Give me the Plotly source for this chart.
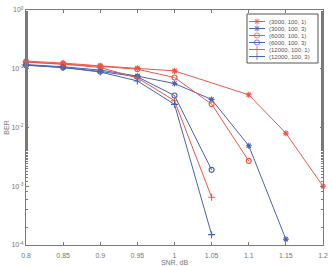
import plotly.graph_objects as go

snr = [0.8, 0.85, 0.9, 0.95, 1.0, 1.05, 1.1, 1.15, 1.2]

names = ["(3000, 100, 1)", "(3000, 100, 3)", "(6000, 100, 1)",
         "(6000, 100, 3)", "(12000, 100, 1)", "(12000, 100, 3)"]

ber_3000_1 = [0.135, 0.125, 0.112, 0.102, 0.092, None, 0.036, 0.008, 0.001]
ber_3000_3 = [0.118, 0.108, 0.095, 0.075, 0.056, 0.030, 0.0049, 0.000125]
ber_6000_1 = [0.13, 0.12, 0.11, 0.098, 0.071, 0.025, 0.0027]
ber_6000_3 = [0.115, 0.105, 0.09, 0.073, 0.035, 0.0019]
ber_12000_1 = [0.13, 0.12, 0.105, 0.07, 0.0286, 0.00065]
ber_12000_3 = [0.115, 0.105, 0.088, 0.062, 0.0248, 0.00015]

series = [ber_3000_1, ber_3000_3, ber_6000_1, ber_6000_3, ber_12000_1, ber_12000_3]

ytick_vals = [1e-4, 1e-3, 1e-2, 1e-1, 1]
ytick_text = ["10<sup>-4</sup>", "10<sup>-3</sup>", "10<sup>-2</sup>",
              "10<sup>-1</sup>", "10<sup>0</sup>"]
xtick_vals = [0.8, 0.85, 0.9, 0.95, 1.0, 1.05, 1.1, 1.15, 1.2]
xtick_text = ["0.8", "0.85", "0.9", "0.95", "1", "1.05", "1.1", "1.15", "1.2"]

RED = "#ee5548"
BLUE = "#4a62b4"
colors = [RED, BLUE, RED, BLUE, RED, BLUE]
symbols = ["asterisk-open", "asterisk-open", "circle-open", "circle-open",
           "cross-thin-open", "cross-thin-open"]
sizes = [5, 5, 5, 5, 5, 5]

fig = go.Figure()
for name, ys, c, s, sz in zip(names, series, colors, symbols, sizes):
    xs = snr[:len(ys)]
    fig.add_trace(go.Scatter(
        x=xs, y=ys, name=name, mode="lines+markers", connectgaps=True,
        showlegend=False, cliponaxis=False,
        line=dict(color=c, width=1),
        marker=dict(symbol=s, size=sz, color=c, line=dict(color=c, width=1.1)),
    ))

# Custom compact legend drawn on an overlay axis in pixel-like units
LX0, LX1, LY0, LY1 = 247, 318, 14, 63
row_y0, row_step = 21.5, 7.0
for i, (name, c, s, sz) in enumerate(zip(names, colors, symbols, sizes)):
    yy = row_y0 + i * row_step
    fig.add_trace(go.Scatter(
        x=[249, 257, 265], y=[yy, yy, yy], xaxis="x2", yaxis="y2",
        mode="lines+markers", showlegend=False, hoverinfo="skip",
        line=dict(color=c, width=1),
        marker=dict(symbol=s, size=[0, sz, 0], color=c, line=dict(color=c, width=1.1)),
    ))
    fig.add_annotation(
        x=267, y=yy, xref="x2", yref="y2", text=name, showarrow=False,
        xanchor="left", yanchor="middle",
        font=dict(size=6, color="#555555"),
    )
fig.add_shape(type="rect", x0=LX0, x1=LX1, y0=LY0, y1=LY1, xref="x2", yref="y2",
              line=dict(color="#555555", width=1), fillcolor="rgba(255,255,255,0)",
              layer="below")

axis_color = "#7a7a7a"
font = dict(family="Liberation Sans, Arial, sans-serif", size=7, color="#777777")

fig.update_layout(
    width=328, height=266,
    margin=dict(l=26, r=5, t=10, b=21),
    plot_bgcolor="white", paper_bgcolor="white",
    font=font,
    showlegend=False,
    xaxis=dict(
        range=[0.8, 1.2], tickvals=xtick_vals, ticktext=xtick_text, automargin=False,
        showgrid=False, zeroline=False, showline=True, linecolor=axis_color,
        linewidth=1, mirror="ticks", ticks="inside", ticklen=3, tickcolor=axis_color,
        ticklabelstandoff=4,
        title=dict(text="SNR, dB", font=dict(size=7, color="#777777"), standoff=2),
    ),
    yaxis=dict(
        type="log", range=[-4, 0], tickvals=ytick_vals, ticktext=ytick_text,
        automargin=False,
        showgrid=False, zeroline=False, showline=True, linecolor=axis_color,
        linewidth=1, mirror="ticks", ticks="inside", ticklen=3, tickcolor=axis_color,
        minor=dict(ticks="inside", ticklen=2, tickcolor=axis_color, showgrid=False),
        title=dict(text="BER", font=dict(size=7, color="#777777"), standoff=0),
    ),
    xaxis2=dict(overlaying="x", anchor="y2", range=[26, 323], visible=False,
                fixedrange=True),
    yaxis2=dict(overlaying="y", anchor="x2", range=[245, 10], visible=False,
                fixedrange=True),
)

fig.write_html("out.html")
